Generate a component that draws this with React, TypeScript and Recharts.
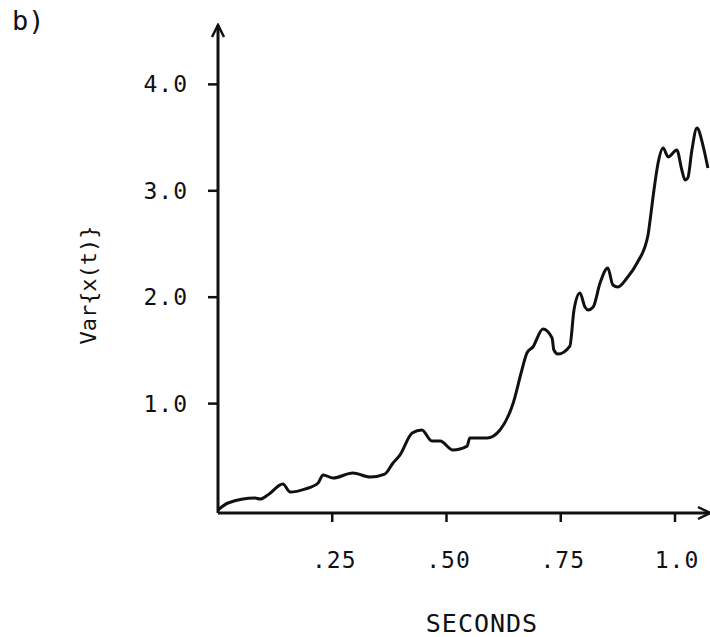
import { LineChart, Line, XAxis, YAxis, Label } from 'recharts'

// seconds
const times = [
  0, 0.022, 0.081, 0.092, 0.109, 0.142, 0.158, 0.19, 0.219, 0.23, 0.252, 0.295, 0.333, 0.365, 0.383,
  0.398, 0.425, 0.446, 0.468, 0.486, 0.514, 0.545, 0.551, 0.589, 0.617, 0.646, 0.665, 0.676, 0.689,
  0.711, 0.731, 0.735, 0.744, 0.77, 0.779, 0.792, 0.803, 0.81, 0.821, 0.836, 0.853, 0.864, 0.875,
  0.895, 0.917, 0.941, 0.945, 0.954, 0.963, 0.974, 0.985, 1.004, 1.015, 1.022, 1.028, 1.037, 1.048,
  1.061, 1.072,
]
// Var{x(t)}
const variance = [
  0, 0.066, 0.113, 0.103, 0.141, 0.244, 0.169, 0.197, 0.254, 0.329, 0.301, 0.348, 0.31, 0.338, 0.442,
  0.517, 0.724, 0.752, 0.648, 0.648, 0.564, 0.601, 0.677, 0.677, 0.752, 1.006, 1.316, 1.476, 1.532,
  1.701, 1.617, 1.504, 1.466, 1.541, 1.88, 2.039, 1.908, 1.88, 1.908, 2.133, 2.274, 2.115, 2.096,
  2.18, 2.321, 2.585, 2.707, 3.008, 3.261, 3.402, 3.318, 3.383, 3.195, 3.101, 3.12, 3.383, 3.59,
  3.43, 3.214,
]
const xTicks = [0.25, 0.5, 0.75, 1.0]
const xTickLabels = ['.25', '.50', '.75', '1.0']
const yTicks = [1, 2, 3, 4]
const yTickLabels = ['1.0', '2.0', '3.0', '4.0']

const data = times.map((t, i) => ({ t, v: variance[i] }))

const FONT = '"DejaVu Sans Mono", monospace'

function XTick({ x, y, payload }: any) {
  const i = xTicks.indexOf(payload.value)
  return (
    <text x={x + 2} y={y + 46} textAnchor="middle" fontFamily={FONT} fontSize={23} letterSpacing={1} fill="#111">
      {xTickLabels[i]}
    </text>
  )
}

function YTick({ x, y, payload }: any) {
  const i = yTicks.indexOf(payload.value)
  return (
    <text x={x - 20} y={y + 8} textAnchor="end" fontFamily={FONT} fontSize={23} letterSpacing={1} fill="#111">
      {yTickLabels[i]}
    </text>
  )
}

export default function App() {
  return (
    <div style={{ position: 'absolute', left: 0, top: 0, width: 710, height: 637, background: '#fff' }}>
      <span style={{ position: 'absolute', left: 12, top: 5, fontFamily: FONT, fontSize: 27, color: '#111' }}>b)</span>
      <LineChart width={710} height={637} data={data} margin={{ top: 25, right: 0, bottom: 0, left: 0 }}>
        <defs>
          <marker id="arrowHead" viewBox="0 0 16 16" markerUnits="userSpaceOnUse" markerWidth={16} markerHeight={16} refX={14} refY={8} orient="auto-start-reverse">
            <path d="M2,2 L14,8 L2,14" fill="none" stroke="#111" strokeWidth={2.5} />
          </marker>
        </defs>
        <XAxis
          type="number"
          dataKey="t"
          domain={[0, 1.0766]}
          ticks={xTicks}
          height={124}
          tickSize={9}
          tickMargin={0}
          tick={<XTick />}
          tickLine={{ stroke: '#111', strokeWidth: 2.5 }}
          axisLine={{ stroke: '#111', strokeWidth: 3, markerEnd: 'url(#arrowHead)' }}
          allowDataOverflow
        >
          <Label
            content={() => (
              <text x={482} y={632} textAnchor="middle" fontFamily={FONT} fontSize={25} letterSpacing={1} fill="#111">
                SECONDS
              </text>
            )}
          />
        </XAxis>
        <YAxis
          type="number"
          domain={[-0.028, 4.558]}
          ticks={yTicks}
          width={218}
          tickSize={10}
          tickMargin={0}
          tick={<YTick />}
          tickLine={{ stroke: '#111', strokeWidth: 2.5 }}
          axisLine={{ stroke: '#111', strokeWidth: 3, markerStart: 'url(#arrowHead)' }}
          allowDataOverflow
        >
          <Label
            content={() => (
              <text x={96} y={285} transform="rotate(-90, 96, 285)" textAnchor="middle" fontFamily={FONT} fontSize={22} fill="#111">
                {'Var{x(t)}'}
              </text>
            )}
          />
        </YAxis>
        <Line
          type="monotone"
          dataKey="v"
          stroke="#111"
          strokeWidth={3}
          dot={false}
          activeDot={false}
          isAnimationActive={false}
        />
      </LineChart>
    </div>
  )
}
